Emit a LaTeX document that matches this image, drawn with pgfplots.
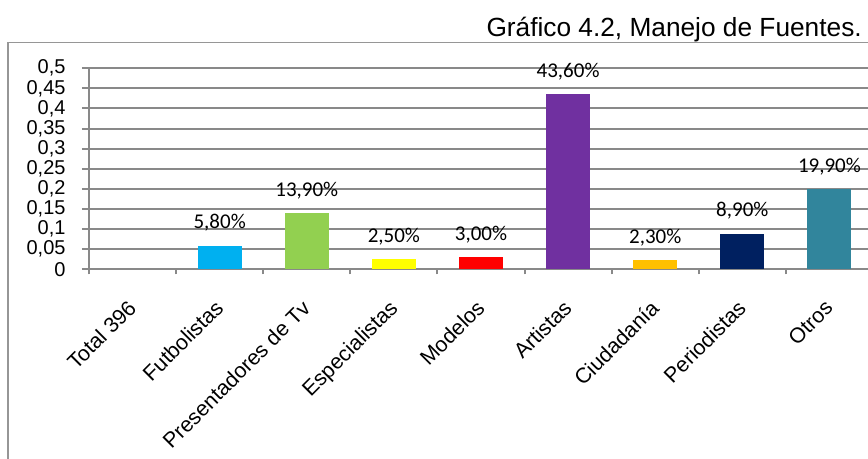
\documentclass[border=0pt]{standalone}
\usepackage{pgfplots}
\pgfplotsset{compat=1.18}
\usepackage{fontspec}
\setmainfont{Liberation Sans}
\newfontfamily\calibri{Carlito}
\definecolor{gridgray}{RGB}{137,137,137}
\definecolor{framegray}{RGB}{150,150,150}
\definecolor{cFut}{HTML}{00B0F0}
\definecolor{cPre}{HTML}{92D050}
\definecolor{cEsp}{HTML}{FFFF00}
\definecolor{cMod}{HTML}{FF0000}
\definecolor{cArt}{HTML}{7030A0}
\definecolor{cCiu}{HTML}{FFC000}
\definecolor{cPer}{HTML}{002060}
\definecolor{cOtr}{HTML}{31859C}
\pgfplotsset{
  mybar/.style={ybar, bar width=33pt, bar shift=0pt, draw=none, fill=#1,
    every node near coord/.append style={anchor=base, inner sep=0pt, yshift=12.75pt,
      font=\calibri\fontsize{15.75}{15.75}\selectfont, text=black}}
}
\begin{document}
\begin{tikzpicture}[x=0.75pt,y=0.75pt]
\path[use as bounding box] (0,0) rectangle (868,459);
\clip (0,0) rectangle (868,459);
\draw[framegray, line width=1.2pt] (8,-5) -- (8,416.3) -- (880,416.3);
\node[anchor=base east, inner sep=0pt, font=\fontsize{19.7}{22}\selectfont] at (862,422.3) {Gráfico 4.2, Manejo de Fuentes.};
\begin{axis}[
  at={(66.75pt,142.275pt)}, anchor=south west,
  scale only axis, width=588pt, height=150.75pt,
  xmin=-0.5, xmax=8.5, ymin=0, ymax=0.5,
  axis lines*=left,
  axis line style={gridgray, line width=1.5pt},
  ytick={0,0.05,0.1,0.15,0.2,0.25,0.3,0.35,0.4,0.45,0.5},
  yticklabels={0,{0,05},{0,1},{0,15},{0,2},{0,25},{0,3},{0,35},{0,4},{0,45},{0,5}},
  ymajorgrids, grid style={gridgray, line width=1.5pt},
  xtick={0,1,2,3,4,5,6,7,8},
  xticklabels={Total 396, Futbolistas, Presentadores de Tv, Especialistas, Modelos, Artistas, Ciudadanía, Periodistas, Otros},
  minor xtick={-0.5,0.5,1.5,2.5,3.5,4.5,5.5,6.5,7.5,8.5},
  tick align=outside,
  major tick length=5.25pt,
  minor tick length=3.75pt,
  major x tick style={draw=none},
  minor x tick style={gridgray, line width=1.5pt},
  ytick style={gridgray, line width=1.5pt},
  xticklabel style={xshift=-4.5pt, rotate=45, anchor=north east, inner sep=0pt, font=\fontsize{16}{16}\selectfont},
  xticklabel shift=16.5pt,
  yticklabel style={anchor=east, inner sep=0pt, font=\fontsize{15}{15}\selectfont},
  yticklabel shift=12.15pt,
]
\addplot[mybar=white, fill=none] coordinates {(0,0)};
\addplot[mybar=cFut, nodes near coords={5,80\%}] coordinates {(1,0.058)};
\addplot[mybar=cPre, nodes near coords={13,90\%}] coordinates {(2,0.139)};
\addplot[mybar=cEsp, nodes near coords={2,50\%}] coordinates {(3,0.025)};
\addplot[mybar=cMod, nodes near coords={3,00\%}] coordinates {(4,0.030)};
\addplot[mybar=cArt, nodes near coords={43,60\%}] coordinates {(5,0.436)};
\addplot[mybar=cCiu, nodes near coords={2,30\%}] coordinates {(6,0.023)};
\addplot[mybar=cPer, nodes near coords={8,90\%}] coordinates {(7,0.089)};
\addplot[mybar=cOtr, nodes near coords={19,90\%}] coordinates {(8,0.199)};
\end{axis}
\end{tikzpicture}
\end{document}
